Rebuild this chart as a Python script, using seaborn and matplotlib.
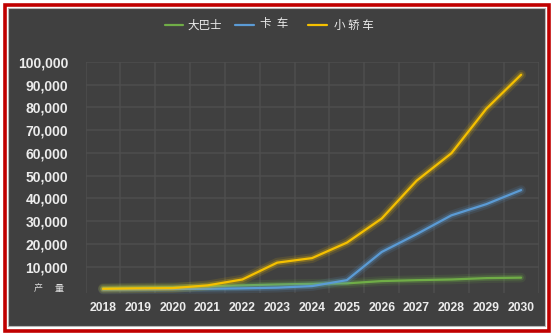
import numpy as np
import pandas as pd
import seaborn as sns
import matplotlib
matplotlib.use("Agg")
import matplotlib.pyplot as plt
import matplotlib.patheffects as pe
from matplotlib.patches import Rectangle
from matplotlib.lines import Line2D

# Production forecast by vehicle type
years = [2018, 2019, 2020, 2021, 2022, 2023, 2024, 2025, 2026, 2027, 2028, 2029, 2030]
bus = [600, 800, 1000, 1400, 1800, 2200, 2500, 2700, 3700, 4100, 4400, 5000, 5200]
truck = [0, 100, 200, 300, 500, 800, 1500, 4100, 16500, 24300, 32600, 37500, 43700]
car = [300, 500, 600, 1800, 4400, 11800, 13800, 20600, 31200, 47800, 59900, 79400, 94400]

series_names = ["大巴士", "卡  车", "小 轿 车"]
series_colors = ["#70ad47", "#5b9bd5", "#f5c000"]
y_ticks = [0, 10000, 20000, 30000, 40000, 50000, 60000, 70000, 80000, 90000, 100000]

df = pd.concat([
    pd.DataFrame({"year": years, "value": vals, "type": name})
    for name, vals in zip(series_names, [bus, truck, car])
])

sns.set_theme(style="dark")
plt.rcParams["font.family"] = ["Liberation Sans", "Noto Sans CJK SC", "DejaVu Sans"]

W, H = 555, 334
fig = plt.figure(figsize=(W / 100, H / 100), dpi=100)
fig.patch.set_facecolor("white")

def fx(px):
    return px / W

def fy(py):
    return 1 - py / H

# outer red frame and dark panel behind the axes
fig.add_artist(Rectangle((fx(4.5), fy(330.5)), fx(544), 326 / H, transform=fig.transFigure,
                         facecolor="none", edgecolor="#c00000", linewidth=2.6, zorder=-10))
fig.add_artist(Rectangle((fx(8), fy(326)), fx(537), 318 / H, transform=fig.transFigure,
                         facecolor="#404040", edgecolor="#b8b8b8", linewidth=0.8, zorder=-9))

ax = fig.add_axes([fx(85.6), fy(292.9), fx(538.5 - 85.6), (292.9 - 62) / H])
ax.set_facecolor("none")

sns.lineplot(data=df, x="year", y="value", hue="type", hue_order=series_names,
             palette=series_colors, linewidth=1.6, legend=False, ax=ax,
             estimator=None, sort=False)

for line, col in zip(ax.get_lines(), series_colors):
    line.set_clip_on(False)
    line.set_path_effects([
        pe.Stroke(linewidth=7, foreground=col, alpha=0.12),
        pe.Stroke(linewidth=4, foreground=col, alpha=0.25),
        pe.Normal(),
    ])

ax.set_xlim(years[0] - 0.5, years[-1] + 0.5)
ax.set_ylim(-1500, 100000)
ax.set_xticks(years)
ax.set_xticklabels([str(y) for y in years])
ax.set_xticks([y + 0.5 for y in [years[0] - 1] + years], minor=True)
ax.set_yticks(y_ticks)
ax.set_yticklabels([""] + [f"{v:,}" for v in y_ticks[1:]])

ax.grid(False)
ax.grid(True, which="minor", axis="x", color="#4e4e4e", linewidth=1.1)
ax.grid(True, which="major", axis="y", color="#4e4e4e", linewidth=1.1)
for gl, t in zip(ax.get_ygridlines(), y_ticks):
    if t == 0:
        gl.set_visible(False)

for s in ax.spines.values():
    s.set_visible(False)

ax.tick_params(axis="x", which="both", length=0, pad=6.2, labelsize=8.7, labelcolor="#ececec")
ax.tick_params(axis="y", which="both", length=0, pad=12.5, labelsize=10, labelcolor="#ececec")
for lab in ax.get_xticklabels() + ax.get_yticklabels():
    lab.set_fontweight("bold")
ax.set_xlabel("")
ax.set_ylabel("")

cjk = ["Noto Sans CJK SC", "DejaVu Sans"]
fig.text(fx(38), fy(288), "产", family=cjk, fontsize=6.5, color="#e0e0e0",
         ha="center", va="center")
fig.text(fx(59), fy(288), "量", family=cjk, fontsize=6.5, color="#e0e0e0",
         ha="center", va="center")

# legend row across the top
legend_items = [(165, 183, 187, 25), (235, 254, 260, 23), (308, 327, 334, 25)]
for (x0, x1, tx, ty), name, col in zip(legend_items, series_names, series_colors):
    fig.add_artist(Line2D([fx(x0), fx(x1)], [fy(25), fy(25)], transform=fig.transFigure,
                          color=col, linewidth=1.6))
    fig.text(fx(tx), fy(ty), name, family=cjk, fontsize=8.3, color="#ececec",
             ha="left", va="center")

fig.savefig("out.png", dpi=100, facecolor=fig.get_facecolor())
